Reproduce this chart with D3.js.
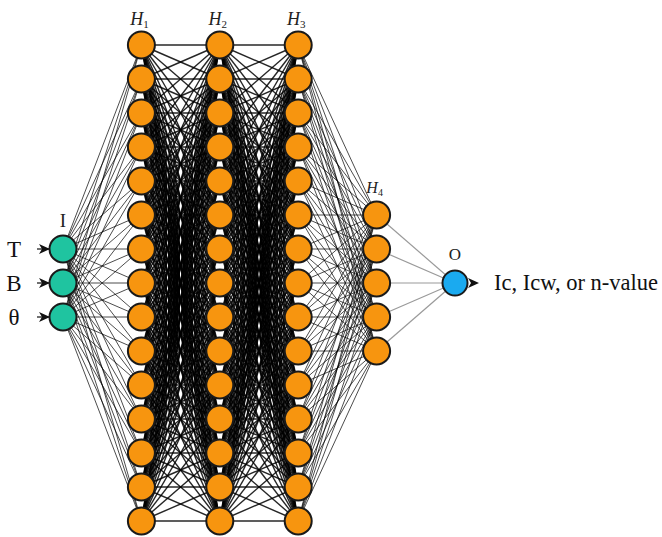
<!DOCTYPE html>
<html><head><meta charset="utf-8">
<script src="https://cdn.jsdelivr.net/npm/d3@7"></script>
<style>body{margin:0;background:#fff}svg{display:block}text{font-family:'Liberation Serif','DejaVu Serif','Times New Roman',serif}</style>
</head><body>
<script>
const layers = ["I","H1","H2","H3","H4","O"];
const layerSizes = [3,15,15,15,5,1];
const layerLabels = [{t:"I"},{t:"H",s:"1"},{t:"H",s:"2"},{t:"H",s:"3"},{t:"H",s:"4"},{t:"O"}];
const inputLabels = ["T","B","θ"];
const outputLabel = "Ic, Icw, or n-value";
const layerColors = ["#1fc4a0","#f7950f","#f7950f","#f7950f","#f7950f","#1aaaf0"];

const W=662,H=537;
const svg=d3.select("body").append("svg").attr("width",W).attr("height",H);
const x=d3.scalePoint().domain(layers).range([63,455]);
const cy=283, gap=34;
const y=(i,n)=>cy+(i-(n-1)/2)*gap;

const nodes=layers.map((l,li)=>d3.range(layerSizes[li]).map(i=>({l,li,i,x:x(l),y:y(i,layerSizes[li])})));

const edges=[];
for(let li=0;li<layers.length-1;li++){
  nodes[li].forEach(a=>nodes[li+1].forEach(b=>edges.push({a,b,li})));
}
svg.append("g").selectAll("line").data(edges).join("line")
  .attr("x1",d=>d.a.x).attr("y1",d=>d.a.y).attr("x2",d=>d.b.x).attr("y2",d=>d.b.y)
  .attr("stroke",d=>d.li===4?"#9a9a9a":"#000")
  .attr("stroke-opacity",d=>d.li===4?1:(d.li===1||d.li===2?0.85:0.7))
  .attr("stroke-width",d=>d.li===4?1.2:(d.li===1||d.li===2?1.4:1));

// arrows
const arrowPath=(tx,ty)=>`M${tx},${ty} L${tx-11},${ty-5} L${tx-8},${ty} L${tx-11},${ty+5} Z`;
const g=svg.append("g");
nodes[0].forEach(n=>{
  g.append("line").attr("x1",n.x-26).attr("x2",n.x-14).attr("y1",n.y).attr("y2",n.y).attr("stroke","#111").attr("stroke-width",1.2);
  g.append("path").attr("d",arrowPath(n.x-13,n.y)).attr("fill","#111");
});
const o=nodes[5][0];
g.append("path").attr("d",arrowPath(o.x+24,o.y)).attr("fill","#111");

svg.append("g").selectAll("circle").data(nodes.flat()).join("circle")
  .attr("cx",d=>d.x).attr("cy",d=>d.y)
  .attr("r",d=>d.li===5?12.5:13.5)
  .attr("fill",d=>layerColors[d.li]).attr("stroke","#1a1a1a").attr("stroke-width",2);

// layer labels
const labY=[227,25,25,25,y(0,5)-22,o.y-23];
layerLabels.forEach((L,li)=>{
  const t=svg.append("text").attr("x",x(layers[li])-(L.s?2:0)).attr("y",labY[li]).attr("text-anchor","middle")
    .attr("fill","#222");
  if(L.s){
    t.attr("font-size",li===4?16:18).attr("font-style","italic").text(L.t);
    t.append("tspan").attr("font-size",li===4?10:11).attr("font-style","normal").attr("dy",3).text(L.s);
  } else {
    t.attr("font-size",li===0?19:17).text(L.t);
  }
});
inputLabels.forEach((s,i)=>{
  const n=nodes[0][i];
  svg.append("text").attr("x",14).attr("y",n.y+8).attr("text-anchor","middle")
    .attr("font-size",23).attr("fill","#111").text(s);
});
svg.append("text").attr("x",494).attr("y",o.y+7)
  .attr("font-size",22.5).attr("fill","#111").text(outputLabel);
</script>
</body></html>
